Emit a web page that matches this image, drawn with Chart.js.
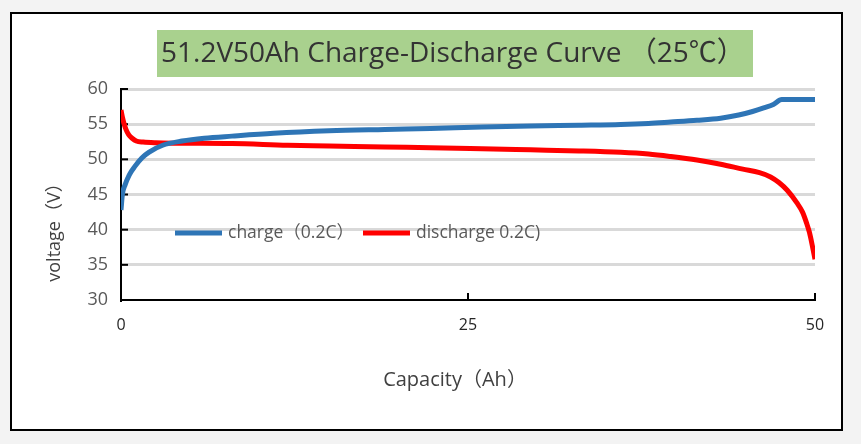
<!DOCTYPE html>
<html>
<head>
<meta charset="utf-8">
<script src="https://cdn.jsdelivr.net/npm/chart.js@4.4.1/dist/chart.umd.min.js"></script>
<style>
html,body{margin:0;padding:0;background:#f3f3f3;overflow:hidden;}
#wrap{width:861px;height:444px;position:relative;}
</style>
</head>
<body>
<div id="wrap"><canvas id="c" width="861" height="444"></canvas></div>
<script>
// ---- data ----
const chartTitle = '51.2V50Ah Charge-Discharge Curve （25℃）';
const xAxisTitle = 'Capacity（Ah）';
const yAxisTitle = 'voltage（V）';
const seriesLabels = ['charge（0.2C）', 'discharge 0.2C)'];
const xTicks = [0, 25, 50];
const yTicks = [30, 35, 40, 45, 50, 55, 60];

const chargeCapacity = [0, 0.1, 0.3, 0.6, 1.0, 1.5, 2.0, 3.0, 4.4, 6.0, 8.0, 11, 15, 19, 22.3, 26, 29.5, 33, 36, 38, 39.6, 41.5, 43.2, 44.5, 45.5, 46.3, 47.0, 47.6, 48.5, 50];
const chargeVoltage  = [42.8, 45.0, 46.4, 47.8, 49.0, 50.2, 51.0, 52.0, 52.6, 53.0, 53.3, 53.7, 54.05, 54.25, 54.4, 54.6, 54.75, 54.85, 54.95, 55.1, 55.3, 55.55, 55.85, 56.3, 56.8, 57.3, 57.8, 58.5, 58.5, 58.5];

const dischargeCapacity = [0, 0.1, 0.2, 0.35, 0.55, 0.8, 1.1, 1.6, 2.5, 4, 8, 12, 15, 19, 22.3, 26, 29.5, 33, 36, 38, 39.6, 41.5, 43.2, 44.8, 46.0, 46.8, 47.4, 48.0, 48.7, 49.1, 49.4, 49.6, 49.8, 50];
const dischargeVoltage  = [57.0, 56.0, 55.2, 54.3, 53.5, 53.0, 52.6, 52.45, 52.35, 52.3, 52.25, 52.0, 51.9, 51.75, 51.65, 51.5, 51.35, 51.2, 51.0, 50.75, 50.4, 49.9, 49.3, 48.6, 48.1, 47.5, 46.7, 45.6, 43.8, 42.5, 40.9, 39.6, 37.8, 35.8];

const seriesColors = ['#2e75b6', '#ff0000'];

function toPoints(xs, ys){ return xs.map((x,i)=>({x:x, y:ys[i]})); }

const FONT = '"Open Sans", "Noto Sans CJK SC", sans-serif';
Chart.defaults.font.family = FONT;

const framePlugin = {
  id: 'frame',
  beforeDraw(chart){
    const ctx = chart.ctx;
    ctx.save();
    ctx.fillStyle = '#f3f3f3';
    ctx.fillRect(0,0,chart.width,chart.height);
    ctx.fillStyle = '#ffffff';
    ctx.fillRect(11,13,831,417);
    ctx.strokeStyle = '#000';
    ctx.lineWidth = 2;
    ctx.strokeRect(11,13,831,417);
    // title box
    ctx.fillStyle = '#a9d18e';
    ctx.fillRect(157,30,596,47);
    ctx.fillStyle = '#333333';
    ctx.font = '28px ' + FONT;
    ctx.textBaseline = 'middle';
    ctx.textAlign = 'left';
    ctx.fillText(chartTitle, 161, 54);
    // x axis title
    ctx.textAlign = 'center';
    ctx.fillStyle = '#404040';
    ctx.font = '20px ' + FONT;
    ctx.fillText(xAxisTitle, 455, 380);
    // y axis title
    ctx.translate(55, 228);
    ctx.rotate(-Math.PI/2);
    ctx.font = '18px ' + FONT;
    ctx.fillText(yAxisTitle, 0, 0);
    ctx.restore();
  },
  beforeDatasetsDraw(chart){
    const ctx = chart.ctx, ys = chart.scales.y, xs = chart.scales.x;
    const a = chart.chartArea;
    ctx.save();
    ctx.strokeStyle = '#000';
    ctx.lineWidth = 2;
    ys.ticks.forEach(t=>{
      const y = ys.getPixelForValue(t.value);
      ctx.beginPath(); ctx.moveTo(a.left, y); ctx.lineTo(a.left+7, y); ctx.stroke();
    });
    xs.ticks.forEach(t=>{
      if (t.value === 0) return;
      const x = xs.getPixelForValue(t.value);
      ctx.beginPath(); ctx.moveTo(x, a.bottom); ctx.lineTo(x, a.bottom-7); ctx.stroke();
    });
    ctx.restore();
  },
  afterDatasetsDraw(chart){
    const ctx = chart.ctx;
    const items = [{x:175}, {x:363}];
    ctx.save();
    ctx.font = '17.5px ' + FONT;
    ctx.textBaseline = 'middle';
    ctx.textAlign = 'left';
    chart.data.datasets.forEach((ds,i)=>{
      const x0 = items[i].x, y = 233;
      ctx.strokeStyle = ds.borderColor;
      ctx.lineWidth = 5;
      ctx.beginPath(); ctx.moveTo(x0, y); ctx.lineTo(x0+47, y); ctx.stroke();
      ctx.fillStyle = '#595959';
      ctx.fillText(ds.label, x0+53, y);
    });
    ctx.restore();
  }
};

new Chart(document.getElementById('c'), {
  type: 'scatter',
  data: {
    datasets: [
      { label: seriesLabels[0], data: toPoints(chargeCapacity, chargeVoltage), borderColor: seriesColors[0], backgroundColor: seriesColors[0], showLine: true, pointRadius: 0, borderWidth: 5, cubicInterpolationMode: 'monotone' },
      { label: seriesLabels[1], data: toPoints(dischargeCapacity, dischargeVoltage), borderColor: seriesColors[1], backgroundColor: seriesColors[1], showLine: true, pointRadius: 0, borderWidth: 5, cubicInterpolationMode: 'monotone' }
    ]
  },
  options: {
    responsive: false,
    animation: false,
    devicePixelRatio: 1,
    layout: { padding: { left: 0, right: 46, top: 89, bottom: 0 } },
    plugins: { legend: { display: false }, tooltip: { enabled: false }, title: { display: false } },
    scales: {
      x: {
        type: 'linear', min: 0, max: 50,
        afterBuildTicks: s => { s.ticks = xTicks.map(v=>({value:v})); },
        afterFit: s => { s.height = 144; },
        grid: { display: false, drawTicks: false },
        border: { display: true, color: '#000', width: 2 },
        ticks: { padding: 16, color: '#262626', font: { size: 16 } },
        title: { display: false, text: xAxisTitle }
      },
      y: {
        min: 30, max: 60,
        afterBuildTicks: s => { s.ticks = yTicks.map(v=>({value:v})); },
        afterFit: s => { s.width = 121; },
        grid: { color: c => (c.tick && c.tick.value === 30) ? 'rgba(0,0,0,0)' : '#d9d9d9', lineWidth: 3, drawTicks: false },
        border: { display: true, color: '#000', width: 2 },
        ticks: { padding: 13, color: '#595959', font: { size: 18 } }
      }
    }
  },
  plugins: [framePlugin]
});
</script>
</body>
</html>
